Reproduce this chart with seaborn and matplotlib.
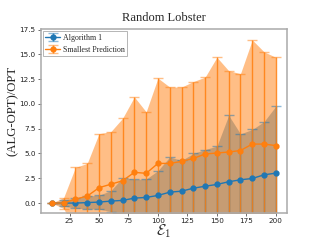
import numpy as np
import matplotlib
matplotlib.use("Agg")
import matplotlib.pyplot as plt
import seaborn as sns

eps1 = [10, 20, 30, 40, 50, 60, 70, 80, 90, 100,
        110, 120, 130, 140, 150, 160, 170, 180, 190, 200]

alg1_mean = [0.0, 0.0, 0.0, 0.05, 0.1, 0.2, 0.27, 0.5, 0.57, 0.77,
             1.1, 1.2, 1.5, 1.7, 1.88, 2.15, 2.35, 2.48, 2.85, 3.02]
alg1_std = [0.0, 0.3, 0.5, 0.65, 0.7, 1.05, 2.3, 1.9, 1.85, 2.5,
            3.55, 3.1, 3.5, 3.7, 3.86, 6.7, 4.63, 4.94, 5.37, 6.75]

small_mean = [0.0, 0.0, 0.4, 0.7, 1.55, 1.9, 2.25, 3.1, 3.0, 4.0,
              4.0, 4.2, 4.5, 4.95, 5.05, 5.15, 5.3, 5.95, 5.95, 5.8]
small_std = [0.0, 0.55, 3.2, 3.3, 5.45, 5.3, 6.3, 7.6, 6.2, 8.6,
             7.7, 7.5, 7.75, 7.75, 9.65, 8.2, 7.75, 10.5, 9.3, 8.9]

series = [("Algorithm 1", alg1_mean, alg1_std),
          ("Smallest Prediction", small_mean, small_std)]

sns.set_theme(style="white")
plt.rcParams["font.family"] = ["Liberation Serif", "DejaVu Serif"]
plt.rcParams["mathtext.fontset"] = "cm"

colors = sns.color_palette("tab10", 2)

fig = plt.figure(figsize=(3.2, 2.4), dpi=100)
ax = fig.add_axes([0.127, 0.1125, 0.77, 0.7665])

x = np.array(eps1)
for (label, mean, std), c in zip(series, colors):
    m = np.array(mean)
    s = np.array(std)
    eb = ax.errorbar(x, m, yerr=s, fmt="-o", color=c, markersize=3.5,
                     linewidth=1.0, elinewidth=1.0, capsize=3.5, label=label)
    for art in eb[1]:
        art.set_alpha(0.5)
    for art in eb[2]:
        art.set_alpha(0.85)
    ax.fill_between(x, m - s, m + s, color=c, alpha=0.5, linewidth=0)

ax.set_xlim(0.5, 209.5)
ax.set_ylim(-1.0, 17.55)
ax.set_xticks([25, 50, 75, 100, 125, 150, 175, 200])
ax.set_yticks(np.arange(0, 17.6, 2.5))
ax.tick_params(axis="both", labelsize=5.2, length=2.5, width=0.6,
               color="#555555", labelcolor="#222222", pad=1.2,
               bottom=True, left=True)
for lab in ax.get_xticklabels() + ax.get_yticklabels():
    lab.set_family("DejaVu Sans")
for sp in ax.spines.values():
    sp.set_color("#aaaaaa")
    sp.set_linewidth(1.1)

ax.set_title("Random Lobster", fontsize=9, pad=6)
ax.set_ylabel("(ALG-OPT)/OPT", fontsize=9.2)
ax.yaxis.set_label_coords(-0.09, 0.557)
ax.set_xlabel(r"$\mathcal{E}_1$", fontsize=11, labelpad=-1)

leg = ax.legend(loc="upper left", fontsize=5.7, fancybox=False, framealpha=1,
                edgecolor="#aaaaaa", borderpad=0.3, handlelength=1.8,
                handletextpad=0.4, borderaxespad=0.3)
leg.get_frame().set_linewidth(0.6)

fig.savefig("out.png", dpi=100)
